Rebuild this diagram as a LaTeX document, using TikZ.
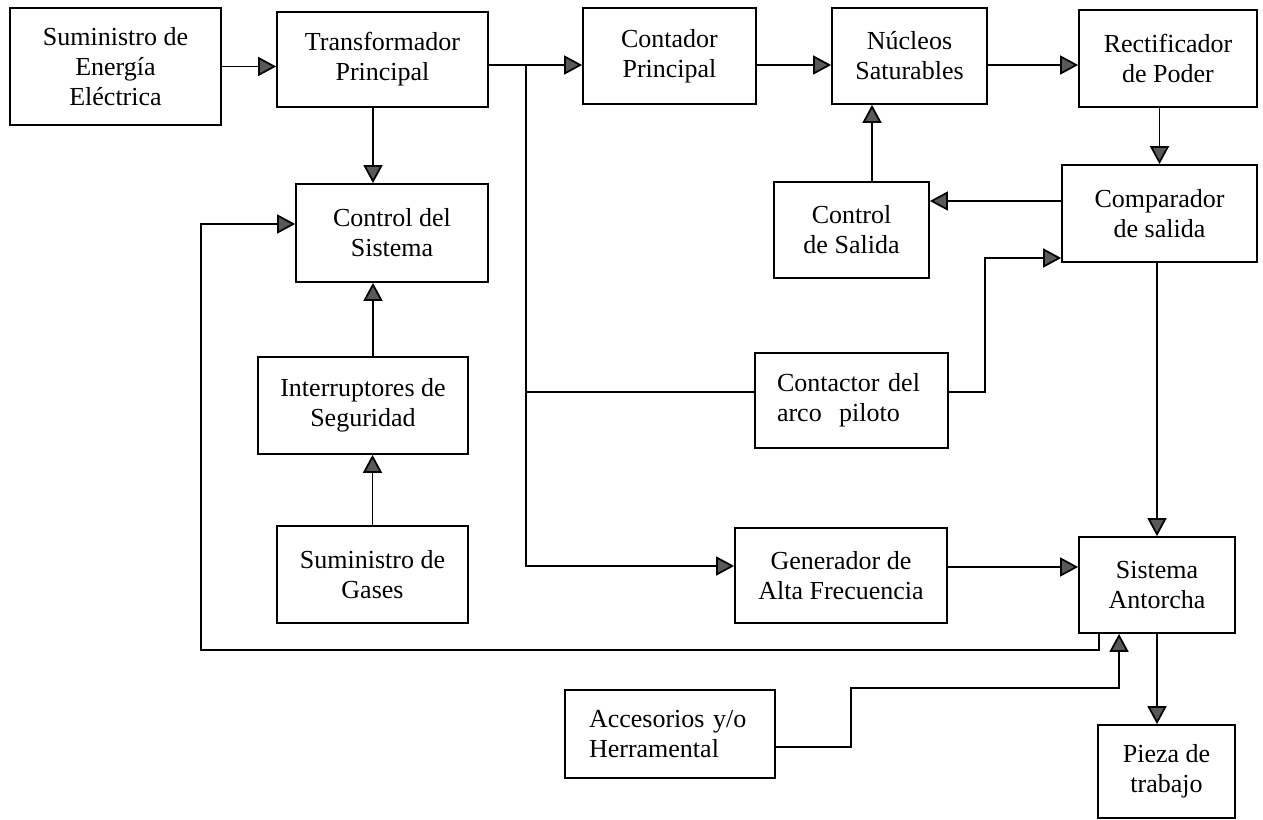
\documentclass[tikz,border=0pt]{standalone}
\usepackage{fontspec}
\setmainfont{Liberation Serif}
\usetikzlibrary{arrows.meta}

\begin{document}
\begin{tikzpicture}[
		x=0.02cm, y=-0.02cm,
		line width=1pt,
		every node/.style={font=\fontsize{14.8}{17}\selectfont},
		blk/.style={draw, align=center, inner sep=0pt},
		blkl/.style={draw, align=left, inner ysep=0pt},
		flecha/.style={-{Triangle[length=0.36cm,width=0.38cm,fill=black!65]}}
		]
	\useasboundingbox (0,0) rectangle (1263,820);

	\node[blk, minimum width=4.22cm, minimum height=2.34cm] (sumE) at (115.5,66.5) {Suministro de\\Energía\\Eléctrica};
	\node[blk, minimum width=4.22cm, minimum height=1.90cm] (trafo) at (382.5,59.5) {Transformador\\Principal};
	\node[blk, minimum width=3.46cm, minimum height=1.92cm] (contP) at (669.5,56) {Contador\\Principal};
	\node[blk, minimum width=3.10cm, minimum height=1.92cm] (nucS) at (909.5,56) {Núcleos\\Saturables};
	\node[blk, minimum width=3.56cm, minimum height=1.94cm] (rect) at (1168,58.5) {Rectificador\\de Poder};
	\node[blk, minimum width=3.84cm, minimum height=1.96cm] (ctrlSis) at (392,233) {Control del\\Sistema};
	\node[blk, minimum width=3.10cm, minimum height=1.92cm] (ctrlSal) at (851.5,230) {Control\\de Salida};
	\node[blk, minimum width=3.90cm, minimum height=1.94cm] (comp) at (1159.5,213.5) {Comparador\\de salida};
	\node[blk, minimum width=4.20cm, minimum height=1.94cm] (interr) at (363,405.5) {Interruptores de\\Seguridad};
	\node[blkl, text width=2.98cm, inner xsep=0.44cm, minimum width=3.86cm, minimum height=1.90cm] (contac) at (851.5,400.5) {Contactor del\\arco\ \ piloto};
	\node[blk, minimum width=3.82cm, minimum height=1.94cm] (gases) at (372.5,574.5) {Suministro de\\Gases};
	\node[blk, minimum width=4.24cm, minimum height=1.90cm] (gen) at (841,575.5) {Generador de\\Alta Frecuencia};
	\node[blk, minimum width=3.12cm, minimum height=1.92cm] (sisA) at (1157,585) {Sistema\\Antorcha};
	\node[blkl, text width=3.24cm, inner xsep=0.48cm, minimum width=4.20cm, minimum height=1.76cm] (acc) at (670,734) {Accesorios y/o\\Herramental};
	\node[blk, minimum width=2.74cm, minimum height=1.86cm] (pieza) at (1166.5,771.5) {Pieza de\\trabajo};

	\coordinate (bus) at (526,65);
	\coordinate (busEnd) at (526,566);
	\coordinate (tap) at ([yshift=.17cm]contac.west);
	\coordinate (pk) at (985,258);
	\coordinate (loopR) at (1099,650);
	\coordinate (fb) at (201,224);
	\coordinate (acc1) at (851,688);

	\draw[flecha] (sumE.east) -- (sumE.east -| trafo.west);
	\draw[flecha] ([xshift=-.19cm]trafo.south) -- ([xshift=-.19cm]trafo.south |- ctrlSis.north);
	\draw (trafo.east |- bus) -- (bus);
	\draw[flecha] (bus) -- (bus -| contP.west);
	\draw[flecha] (bus) -- (busEnd) -- (busEnd -| gen.west);
	\draw (bus |- tap) -- (tap);
	\draw[flecha] (contP.east |- bus) -- (nucS.west |- bus);
	\draw[flecha] (nucS.east |- bus) -- (rect.west |- bus);
	\draw[flecha] (comp.north |- rect.south) -- (comp.north);
	\draw[flecha] ([yshift=.25cm]comp.west) -- ([yshift=.25cm]comp.west -| ctrlSal.east);
	\draw[flecha] ([xshift=.41cm]ctrlSal.north) -- ([xshift=.41cm]ctrlSal.north |- nucS.south);
	\draw[flecha] ([yshift=.17cm]contac.east) -| (pk) -- (pk -| comp.west);
	\draw[flecha] (sisA.north |- comp.south) -- (sisA.north);
	\draw[flecha] ([yshift=.17cm]gen.east) -- ([yshift=.17cm]gen.east -| sisA.west);
	\draw[flecha] (gases.north) -- (gases.north |- interr.south);
	\draw[flecha] ([xshift=.2cm]interr.north) -- ([xshift=.2cm]interr.north |- ctrlSis.south);
	\draw[flecha] (loopR |- sisA.south) -- (loopR) -| (fb) -- (fb -| ctrlSis.west);
	\draw[flecha] ([yshift=-.26cm]acc.east) -| (acc1) -| ([xshift=-.76cm]sisA.south);
	\draw[flecha] (sisA.south) -- (sisA.south |- pieza.north);
\end{tikzpicture}
\end{document}
